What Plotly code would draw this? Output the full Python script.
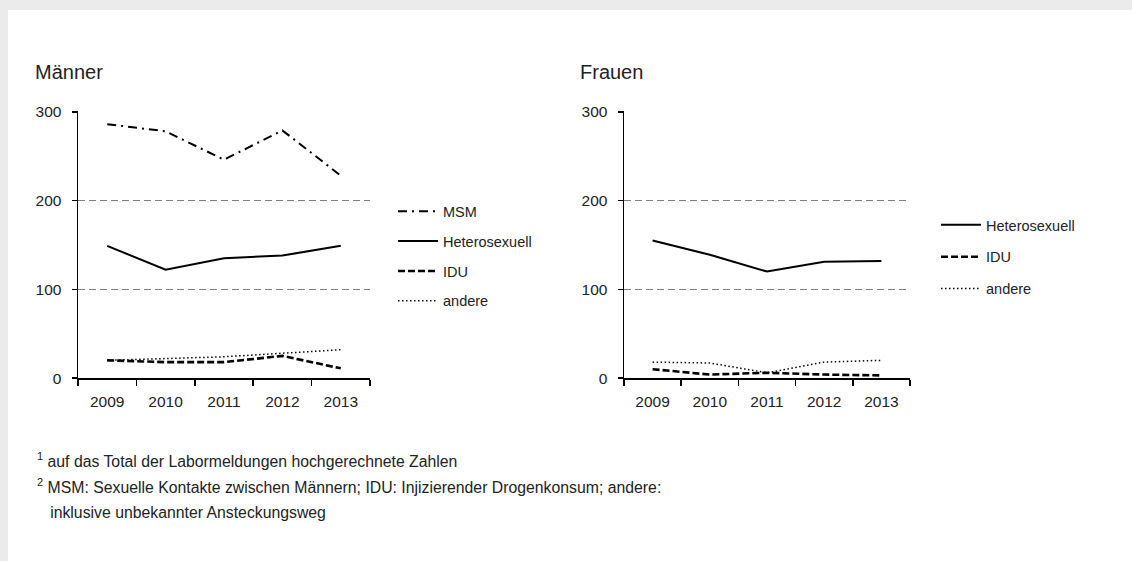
import plotly.graph_objects as go

years = ["2009", "2010", "2011", "2012", "2013"]
yticks = [0, 100, 200, 300]

# Männer
m_msm = [286, 278, 246, 279, 228]
m_hetero = [149, 122, 135, 138, 149]
m_idu = [20, 18, 18, 25, 11]
m_andere = [20, 22, 24, 28, 32]

# Frauen
f_hetero = [155, 139, 120, 131, 132]
f_idu = [10, 4, 6, 4, 3]
f_andere = [18, 17, 6, 18, 20]

title_m = "Männer"
title_f = "Frauen"
notes = [
    "<sup>1</sup> auf das Total der Labormeldungen hochgerechnete Zahlen",
    "<sup>2</sup> MSM: Sexuelle Kontakte zwischen Männern; IDU: Injizierender Drogenkonsum; andere:",
    "   inklusive unbekannter Ansteckungsweg",
]

W = 1132
H = 545
OFF, SC = 8.0, 0.973   # observed vertical placement of the figure in the page picture
FONT = "Liberation Sans, Arial, sans-serif"
TXT = "#222222"


def px(x):
    return x / W


def fy(y):
    return (y - OFF) / SC


def py(y):
    return 1 - fy(y) / H


styles = {
    "MSM": dict(color="black", width=2, dash="9px,5px,2px,5px"),
    "Heterosexuell": dict(color="black", width=2),
    "IDU": dict(color="black", width=2.6, dash="7px,3px"),
    "andere": dict(color="black", width=1.5, dash="1.5px,2.5px"),
}

fig = go.Figure()

for name, vals in [("MSM", m_msm), ("Heterosexuell", m_hetero), ("IDU", m_idu), ("andere", m_andere)]:
    fig.add_trace(go.Scatter(x=years, y=vals, mode="lines", name=name, line=styles[name],
                             xaxis="x", yaxis="y", legend="legend", legendgroup="m" + name,
                             hoverinfo="skip"))

for name, vals in [("Heterosexuell", f_hetero), ("IDU", f_idu), ("andere", f_andere)]:
    fig.add_trace(go.Scatter(x=years, y=vals, mode="lines", name=name, line=styles[name],
                             xaxis="x2", yaxis="y2", legend="legend2", legendgroup="f" + name,
                             hoverinfo="skip"))

xcommon = dict(type="category", range=[-0.5, 4.5], showline=True, linecolor="black", linewidth=1.5,
               ticks="outside", ticklen=6, tickcolor="black", tickwidth=1.5,
               tickson="boundaries", showgrid=False, zeroline=False, ticklabelstandoff=9,
               tickfont=dict(size=15.5, color=TXT, family=FONT), fixedrange=True)
ycommon = dict(range=[0, 301], tickvals=yticks, showline=True, linecolor="black", linewidth=1.5,
               ticks="outside", ticklen=5, tickcolor="black", tickwidth=1.5, ticklabelstandoff=7,
               showgrid=True, gridcolor="#7f7f7f", griddash="7px,4px", gridwidth=1,
               zeroline=False, tickfont=dict(size=15.5, color=TXT, family=FONT), fixedrange=True)

y0, y300 = 379, 112
ytop = y0 - (y0 - y300) * 301 / 300
ydom = [py(y0), py(ytop)]

legfont = dict(size=14.5, color=TXT, family=FONT)
fig.update_layout(
    width=W, height=H, autosize=False,
    margin=dict(l=0, r=0, t=0, b=0),
    paper_bgcolor="white", plot_bgcolor="white",
    font=dict(family=FONT, color=TXT),
    xaxis=dict(domain=[px(78), px(370)], anchor="y", **xcommon),
    yaxis=dict(domain=ydom, anchor="x", **ycommon),
    xaxis2=dict(domain=[px(624), px(910)], anchor="y2", **xcommon),
    yaxis2=dict(domain=ydom, anchor="x2", **ycommon),
    legend=dict(x=px(393), y=1 - 193 / H, xanchor="left", yanchor="top",
                font=legfont, tracegroupgap=8, itemwidth=40,
                bgcolor="rgba(0,0,0,0)", itemclick=False, itemdoubleclick=False),
    legend2=dict(x=px(936), y=1 - 207 / H, xanchor="left", yanchor="top",
                 font=legfont, tracegroupgap=10, itemwidth=40,
                 bgcolor="rgba(0,0,0,0)", itemclick=False, itemdoubleclick=False),
    showlegend=True,
)

# grey frame bands (top and left)
fig.add_shape(type="rect", xref="paper", yref="paper", x0=0, x1=1, y0=py(10), y1=1.05,
              fillcolor="#ebebeb", line_width=0, layer="below")
fig.add_shape(type="rect", xref="paper", yref="paper", x0=0, x1=px(8), y0=-0.05, y1=1.05,
              fillcolor="#ebebeb", line_width=0, layer="below")

fig.add_annotation(text=title_m, xref="paper", yref="paper", x=px(33), y=py(72),
                   xanchor="left", yanchor="middle", showarrow=False,
                   font=dict(size=20, color=TXT, family=FONT))
fig.add_annotation(text=title_f, xref="paper", yref="paper", x=px(578), y=py(72),
                   xanchor="left", yanchor="middle", showarrow=False,
                   font=dict(size=20, color=TXT, family=FONT))

for i, t in enumerate(notes):
    fig.add_annotation(text=t, xref="paper", yref="paper", x=px(35), y=py(461 + 26.5 * i),
                       xanchor="left", yanchor="middle", showarrow=False,
                       font=dict(size=15.8, color=TXT, family=FONT))

page_js = (
    "document.body.style.margin='0';"
    "document.body.style.overflow='hidden';"
    "document.documentElement.style.minHeight='100%';"
    "document.documentElement.style.background="
    "'linear-gradient(to bottom, #ebebeb 0px, #ebebeb 10px, rgba(255,255,255,0) 10px) 0 0 / 100% 10px no-repeat,"
    " linear-gradient(to right, #ebebeb 0px, #ebebeb 8px, rgba(255,255,255,0) 8px) 0 0 / 8px 100% repeat-y,"
    " #ffffff';"
)
fig.write_html("out.html",
               config={"displayModeBar": False, "responsive": False, "staticPlot": True},
               post_script=page_js)
